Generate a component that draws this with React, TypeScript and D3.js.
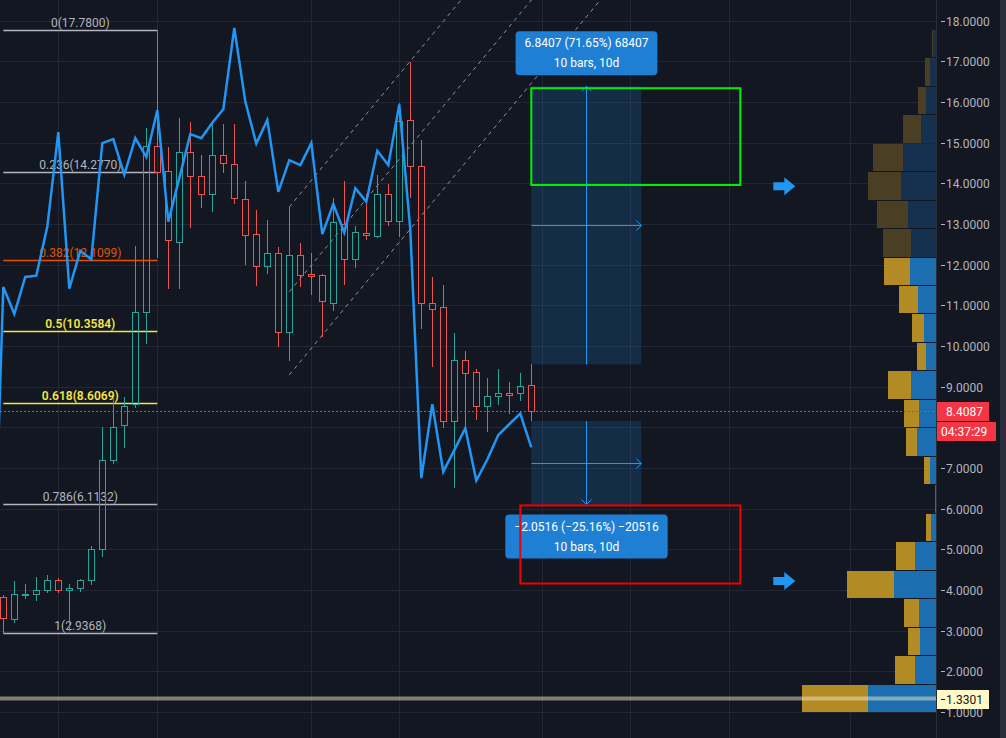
import React from 'react';
import * as d3 from 'd3';

const W = 1006;
const H = 738;

// ---- OHLC candles (bar index 0..48) ----
const opens = [3.82,3.28,3.88,3.89,3.99,4.24,3.99,4.04,4.24,5.00,7.19,8.05,8.57,10.83,14.92,14.30,12.57,14.76,14.17,13.75,14.69,14.47,13.61,12.75,11.98,12.28,10.34,12.23,11.76,11.74,11.07,13.01,12.13,12.77,12.70,13.73,13.07,15.55,14.42,11.07,10.95,8.16,9.65,9.35,8.52,8.78,8.84,8.84,9.03];
const highs = [3.88,4.22,4.15,4.32,4.37,4.29,4.15,4.26,5.07,8.02,8.75,8.75,12.46,15.37,17.78,14.89,15.60,15.51,14.70,15.46,15.46,15.46,14.05,13.34,13.09,12.43,13.41,12.53,12.28,11.76,13.63,14.05,12.94,13.73,14.20,13.98,15.97,16.99,15.07,11.69,11.50,10.31,9.88,9.43,9.21,9.43,9.11,9.33,9.55];
const lows = [2.9368,3.19,3.77,3.74,3.93,3.93,2.99,3.96,4.13,4.82,7.09,7.50,8.47,10.04,12.17,11.41,11.41,12.91,13.40,13.30,14.26,13.50,12.00,11.48,11.78,9.98,9.64,11.46,11.25,10.23,10.87,11.51,11.93,12.61,12.66,12.94,12.69,13.63,10.41,9.49,7.99,6.51,8.01,8.18,7.89,8.56,8.32,8.65,8.15];
const closes = [3.30,3.89,3.90,3.99,4.24,3.99,4.06,4.24,5.00,7.19,8.01,8.53,10.83,14.92,14.29,12.60,14.76,14.17,13.75,14.69,14.49,13.63,12.72,11.98,12.28,10.34,12.23,11.74,11.72,11.10,13.04,12.13,12.80,12.72,13.73,13.07,15.53,14.42,11.07,10.92,8.16,9.65,9.33,8.52,8.76,8.84,8.80,9.01,8.4087];

// ---- compare line (starts at bar -1) ----
const lineStartBar = -1;
const lineValues = [3.0,11.45,10.79,11.70,11.73,12.93,15.26,11.41,12.34,12.13,14.99,15.09,14.21,15.11,14.65,15.80,13.06,14.13,15.21,15.11,15.49,15.82,17.82,16.01,14.98,15.56,13.79,14.57,14.45,14.99,12.75,13.49,12.79,13.88,13.55,14.80,14.45,15.94,12.85,6.75,8.57,6.91,7.44,7.98,6.69,7.21,7.81,8.08,8.34,7.51];

// ---- fibonacci retracement ----
const fibBars = [0, 14];
const fibHigh = 17.78;
const fibLow = 2.9368;
const fibLevels = [0, 0.236, 0.382, 0.5, 0.618, 0.786, 1];

// ---- parallel channel ----
const channelStartBar = 26;
const channelEndBar = 62;
const channelPrices = [13.42, 11.335, 9.29];
const channelSlope = 0.326; // price per bar

// ---- date & price ranges ----
const rangeBars = [48, 58];
const rangeUp = [9.5473, 16.388];
const rangeDown = [8.1541, 6.1025];

// ---- rectangles ----
const greenRectBars = [48, 67];
const greenRectPrices = [16.34, 13.96];
const redRectBars = [47, 67];
const redRectPrices = [6.08, 4.16];

// ---- arrows ----
const arrowBars = [70, 70];
const arrowPrices = [13.93, 4.22];

// ---- horizontal line ----
const hLinePrice = 1.3301;
const lastPrice = 8.4087;
const countdown = '04:37:29';

// ---- grid / axis ----
const gridBars = [5, 14, 28, 36, 49, 57, 66, 77];
const priceTicks = d3.range(1, 19);

// ---- volume profile (rows bottom -> top) ----
const vpLow = 1.0;
const vpStep = 0.7;
const vpBuy = [66,20,12,15,47,19,5,0,6,11,15,23,9,12,19,26,28,31,33,30,18,8,5,1];
const vpSell = [68,21,16,17,42,21,5,1,6,19,17,25,10,12,18,26,25,28,35,33,15,10,6,3];
const valueAreaHigh = 12.2;

const FONT = 'Roboto, "Liberation Sans", "DejaVu Sans", sans-serif';

function measure(text: string, size: number) {
  const c = document.createElement('canvas').getContext('2d');
  if (!c) return text.length * size * 0.55;
  c.font = `${size}px Roboto`;
  return c.measureText(text).width;
}

export default function App() {
  const chartRight = 937;
  const y = d3.scaleLinear().domain([1, 18]).range([712, 20.7]);
  const x = d3.scaleLinear().domain([0, 48]).range([3.3, 531.3]);
  const px = (i: number) => Math.round(x(i));
  const py = (v: number) => Math.round(y(v));

  const up = '#26a69a';
  const down = '#ef5350';
  const bg = '#131722';
  const grid = '#232733';

  const line = d3.line<number>()
    .x((_, i) => x(i + lineStartBar))
    .y((d) => y(d));

  const fibColor = (l: number) => (l === 0.382 ? '#e65100' : l === 0.5 || l === 0.618 ? '#f5e642' : '#b2b5be');
  const fx0 = x(fibBars[0]);
  const fx1 = x(fibBars[1]);

  const vpTotals = vpBuy.map((b, i) => b + vpSell[i]);
  const vs = d3.scaleLinear().domain([0, d3.max(vpTotals) as number]).range([0, 134]);
  const vpRight = 936;

  const fmtP = d3.format('.4f');
  const fmtPct = d3.format('.2f');
  const fmtTicks = d3.format('d');

  function rangeTool(bars: number[], pr: number[], key: string) {
    const x0 = x(bars[0]);
    const x1 = x(bars[1]);
    const ya = y(pr[0]);
    const yb = y(pr[1]);
    const top = Math.min(ya, yb);
    const bot = Math.max(ya, yb);
    const xm = Math.round((x0 + x1) / 2) + 0.5;
    const ym = Math.round((ya + yb) / 2) + 0.5;
    const diff = pr[1] - pr[0];
    const pct = (diff / pr[0]) * 100;
    const t1 = `${fmtP(diff)} (${fmtPct(pct)}%) ${fmtTicks(Math.round(diff * 10000))}`;
    const t2 = `${fmtTicks(bars[1] - bars[0])} bars, ${fmtTicks(bars[1] - bars[0])}d`;
    const upward = diff > 0;
    const tw = Math.max(measure(t1, 12), measure(t2, 12));
    const bw = tw + 18;
    const bh = 44;
    const by = upward ? top - 11 - bh : bot + 10;
    const arrowY = upward ? top : bot;
    const dir = upward ? 1 : -1;
    return (
      <g key={key}>
        <rect x={x0} y={top} width={x1 - x0} height={bot - top} fill="rgba(33,150,243,0.17)" />
        <line x1={xm} x2={xm} y1={ya} y2={yb} stroke="#2196f3" strokeWidth={1} />
        <path d={`M${xm - 5},${arrowY + dir * 5} L${xm},${arrowY} L${xm + 5},${arrowY + dir * 5}`} fill="none" stroke="#2196f3" strokeWidth={1} />
        <line x1={x0} x2={x1} y1={ym} y2={ym} stroke="#2196f3" strokeWidth={1} />
        <path d={`M${x1 - 5},${ym - 5} L${x1},${ym} L${x1 - 5},${ym + 5}`} fill="none" stroke="#2196f3" strokeWidth={1} />
        <rect x={xm - bw / 2} y={by} width={bw} height={bh} rx={4} fill="#1f7fd5" />
        <text x={xm} y={by + 16} textAnchor="middle" fill="#ffffff" fontSize={12} fontFamily={FONT}>{t1}</text>
        <text x={xm} y={by + 36} textAnchor="middle" fill="#ffffff" fontSize={12} fontFamily={FONT}>{t2}</text>
      </g>
    );
  }

  const chBars = [channelStartBar, channelEndBar];

  const lpTop = py(lastPrice) - 9;
  const lpBottom = py(lastPrice) + 30;
  const visibleTicks = priceTicks.filter((t) => py(t) < lpTop - 6 || py(t) > lpBottom + 6);

  return (
    <svg width={W} height={H} style={{ position: 'absolute', left: 0, top: 0, display: 'block' }} fontFamily={FONT}>
      <defs>
        <clipPath id="plot">
          <rect x={0} y={0} width={chartRight} height={H} />
        </clipPath>
      </defs>
      <rect x={0} y={0} width={W} height={H} fill={bg} />

      <g clipPath="url(#plot)">
        {priceTicks.map((t) => (
          <line key={'gh' + t} x1={0} x2={chartRight} y1={py(t) + 0.5} y2={py(t) + 0.5} stroke={grid} strokeWidth={1} />
        ))}
        {gridBars.map((b) => (
          <line key={'gv' + b} x1={px(b) + 0.5} x2={px(b) + 0.5} y1={0} y2={H} stroke={grid} strokeWidth={1} />
        ))}

        {vpBuy.map((b, i) => {
          const lo = vpLow + i * vpStep;
          const hi = lo + vpStep;
          const yt = Math.round(y(hi)) + 1;
          const yb = Math.round(y(lo));
          const dim = lo >= valueAreaHigh - 1e-6;
          const total = vpTotals[i];
          const xl = vpRight - vs(total);
          const xm = xl + vs(b);
          return (
            <g key={'vp' + i}>
              <rect x={xl} y={yt} width={vs(b)} height={yb - yt} fill={dim ? '#4a3f24' : '#b38b24'} />
              <rect x={xm} y={yt} width={vpRight - xm} height={yb - yt} fill={dim ? '#15314f' : '#1b6fb0'} />
            </g>
          );
        })}

        <line x1={0} x2={chartRight} y1={y(hLinePrice)} y2={y(hLinePrice)} stroke="rgba(240,230,200,0.5)" strokeWidth={4} />

        {fibLevels.map((l) => {
          const p = fibHigh - l * (fibHigh - fibLow);
          const yy = py(p) + 0.5;
          const c = fibColor(l);
          return (
            <g key={'fib' + l}>
              <line x1={fx0} x2={fx1} y1={yy} y2={yy} stroke={c} strokeWidth={1.5} />
              <text x={(fx0 + fx1) / 2} y={yy - 4} textAnchor="middle" fill={c} fontSize={12}
                fontWeight={l === 0.5 || l === 0.618 ? 600 : 400}>{`${l}(${fmtP(p)})`}</text>
            </g>
          );
        })}

        {channelPrices.map((p, k) => (
          <line key={'ch' + k} x1={x(chBars[0])} y1={y(p)} x2={x(chBars[1])}
            y2={y(p + channelSlope * (chBars[1] - chBars[0]))}
            stroke="#8f929b" strokeWidth={1} strokeDasharray="4 4" />
        ))}

        {rangeTool(rangeBars, rangeUp, 'ru')}
        {rangeTool(rangeBars, rangeDown, 'rd')}

        {opens.map((o, i) => {
          const c = closes[i];
          const col = c >= o ? up : down;
          const xc = px(i);
          const bt = py(Math.max(o, c));
          let bb = py(Math.min(o, c));
          if (bb - bt < 1) bb = bt + 1;
          const ht = py(highs[i]);
          const lb = py(lows[i]);
          return (
            <g key={'c' + i}>
              <line x1={xc + 0.5} x2={xc + 0.5} y1={ht} y2={bt} stroke={col} strokeWidth={1} />
              <line x1={xc + 0.5} x2={xc + 0.5} y1={bb + 1} y2={lb} stroke={col} strokeWidth={1} />
              <rect x={xc - 2.5} y={bt + 0.5} width={6} height={bb - bt} fill="none" stroke={col} strokeWidth={1} />
            </g>
          );
        })}

        <path d={line(lineValues) || ''} fill="none" stroke="#2196f3" strokeWidth={2.5} strokeLinejoin="miter" />

        <rect x={x(greenRectBars[0])} y={y(greenRectPrices[0])} width={x(greenRectBars[1]) - x(greenRectBars[0])}
          height={y(greenRectPrices[1]) - y(greenRectPrices[0])} fill="none" stroke="#00f000" strokeWidth={2} />
        <rect x={x(redRectBars[0])} y={y(redRectPrices[0])} width={x(redRectBars[1]) - x(redRectBars[0])}
          height={y(redRectPrices[1]) - y(redRectPrices[0])} fill="none" stroke="#f00000" strokeWidth={2} />

        {arrowBars.map((b, i) => {
          const ax = x(b);
          const ay = y(arrowPrices[i]);
          return (
            <path key={'ar' + i}
              d={`M${ax},${ay - 4} L${ax + 11},${ay - 4} L${ax + 11},${ay - 9} L${ax + 22},${ay} L${ax + 11},${ay + 9} L${ax + 11},${ay + 4} L${ax},${ay + 4} Z`}
              fill="#2196f3" />
          );
        })}

        <line x1={0} x2={chartRight} y1={py(lastPrice) + 0.5} y2={py(lastPrice) + 0.5} stroke="#f23645" strokeWidth={1.2} strokeDasharray="2 2" />
      </g>

      <rect x={chartRight} y={0} width={W - chartRight} height={H} fill={bg} />
      <line x1={chartRight - 0.5} x2={chartRight - 0.5} y1={0} y2={H} stroke="#2a2e39" />
      <rect x={1000} y={0} width={6} height={H} fill="#2a2e39" />
      {visibleTicks.map((t) => (
        <g key={'t' + t}>
          <line x1={941} x2={945} y1={py(t) + 0.5} y2={py(t) + 0.5} stroke="#b2b5be" />
          <text x={946} y={py(t) + 4.5} fill="#b2b5be" fontSize={12}>{fmtP(t)}</text>
        </g>
      ))}
      <rect x={chartRight} y={lpTop} width={52} height={19} fill="#f23645" />
      <text x={946} y={py(lastPrice) + 4.5} fill="#ffffff" fontSize={12}>{fmtP(lastPrice)}</text>
      <rect x={chartRight} y={py(lastPrice) + 11} width={59} height={19} fill="#f23645" />
      <text x={941} y={py(lastPrice) + 24.5} fill="#ffffff" fontSize={12}>{countdown}</text>
      <rect x={chartRight} y={py(hLinePrice) - 9} width={52} height={19} fill="#fff9c8" />
      <line x1={941} x2={945} y1={py(hLinePrice) + 0.5} y2={py(hLinePrice) + 0.5} stroke="#131722" />
      <text x={946} y={py(hLinePrice) + 4.5} fill="#131722" fontSize={12}>{fmtP(hLinePrice)}</text>
    </svg>
  );
}
